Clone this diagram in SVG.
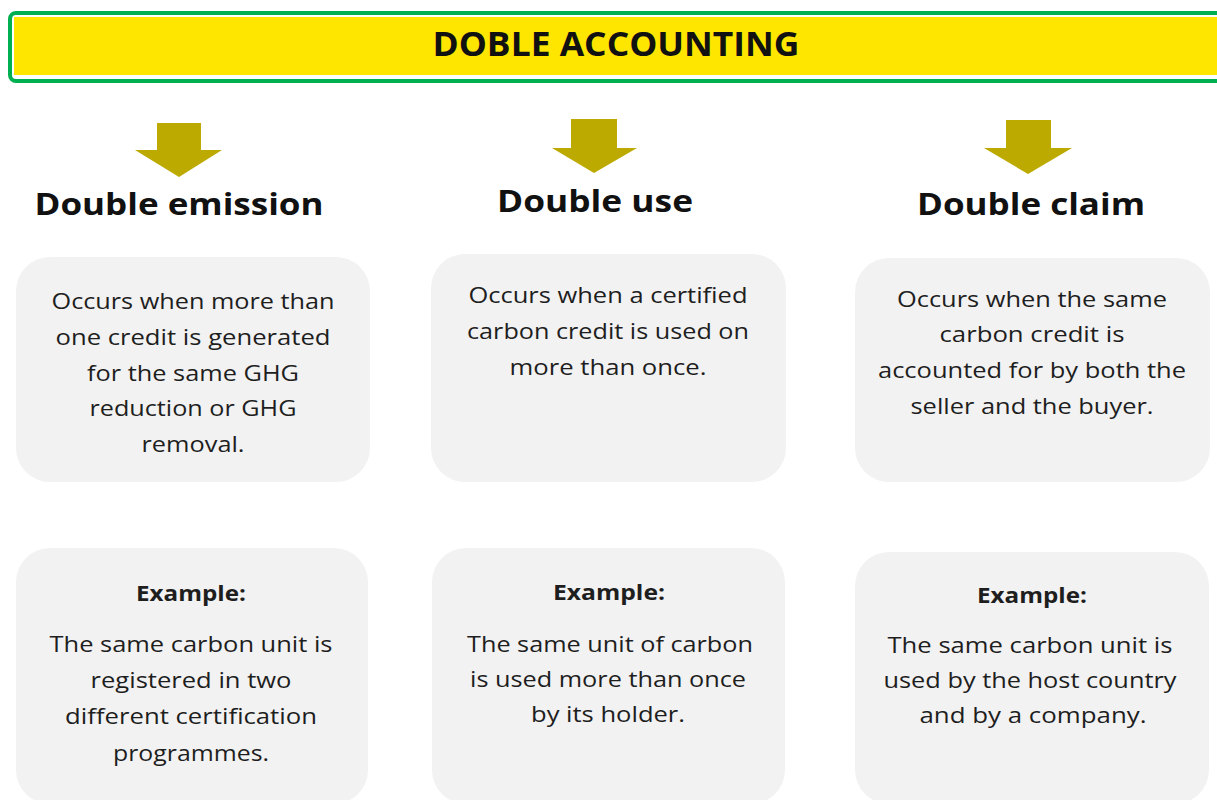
<svg xmlns="http://www.w3.org/2000/svg" width="1217" height="800" viewBox="0 0 1217 800">
<style>
.box{fill:#f2f2f2;}
.arrow{fill:#bdaa00;}
text{font-family:"Open Sans","Liberation Sans",sans-serif;fill:#1e1e1e;text-anchor:middle;}
.title{font-size:34px;font-weight:bold;fill:#111;}
.head{font-size:31px;font-weight:bold;fill:#111;}
.body{font-size:22px;}
.ex{font-size:22px;font-weight:bold;}
</style>
<rect width="1217" height="800" fill="#ffffff"/>
<g id="title">
<rect x="10" y="13" width="1230" height="68" rx="6" fill="#ffffff" stroke="#00b050" stroke-width="4"/>
<rect x="14" y="17" width="1226" height="58" fill="#ffe600"/>
<text class="title" x="616" y="56" textLength="367" lengthAdjust="spacingAndGlyphs">DOBLE ACCOUNTING</text>
</g>
<g id="connectors">
<polygon class="arrow" points="157,123 201,123 201,150 222,150 179,177 135,150 157,150"/>
<polygon class="arrow" points="571,119 617,119 617,148 637,148 594,173 552,148 571,148"/>
<polygon class="arrow" points="1006,120 1051,120 1051,148 1072,148 1028,174 984,148 1006,148"/>
</g>
<g id="heading-emission">
<text class="head" x="179" y="215" textLength="289" lengthAdjust="spacingAndGlyphs">Double emission</text>
</g>
<g id="heading-use">
<text class="head" x="595" y="212" textLength="196" lengthAdjust="spacingAndGlyphs">Double use</text>
</g>
<g id="heading-claim">
<text class="head" x="1031" y="215" textLength="228" lengthAdjust="spacingAndGlyphs">Double claim</text>
</g>
<g id="box-emission">
<rect class="box" x="16" y="257" width="354" height="225" rx="34"/>
<text class="body" x="193" y="309" textLength="283" lengthAdjust="spacingAndGlyphs">Occurs when more than</text>
<text class="body" x="193" y="345" textLength="275" lengthAdjust="spacingAndGlyphs">one credit is generated</text>
<text class="body" x="193" y="381" textLength="212" lengthAdjust="spacingAndGlyphs">for the same GHG</text>
<text class="body" x="193" y="416" textLength="207" lengthAdjust="spacingAndGlyphs">reduction or GHG</text>
<text class="body" x="193" y="452" textLength="103" lengthAdjust="spacingAndGlyphs">removal.</text>
</g>
<g id="box-use">
<rect class="box" x="431" y="254" width="355" height="228" rx="34"/>
<text class="body" x="608" y="303" textLength="279" lengthAdjust="spacingAndGlyphs">Occurs when a certified</text>
<text class="body" x="608" y="339" textLength="282" lengthAdjust="spacingAndGlyphs">carbon credit is used on</text>
<text class="body" x="608" y="375" textLength="197" lengthAdjust="spacingAndGlyphs">more than once.</text>
</g>
<g id="box-claim">
<rect class="box" x="855" y="258" width="355" height="224" rx="34"/>
<text class="body" x="1032" y="307" textLength="270" lengthAdjust="spacingAndGlyphs">Occurs when the same</text>
<text class="body" x="1032" y="342" textLength="185" lengthAdjust="spacingAndGlyphs">carbon credit is</text>
<text class="body" x="1032" y="378" textLength="308" lengthAdjust="spacingAndGlyphs">accounted for by both the</text>
<text class="body" x="1032" y="414" textLength="243" lengthAdjust="spacingAndGlyphs">seller and the buyer.</text>
</g>
<g id="example-emission">
<rect class="box" x="16" y="548" width="352" height="256" rx="34"/>
<text class="ex" x="191" y="601" textLength="110" lengthAdjust="spacingAndGlyphs">Example:</text>
<text class="body" x="191" y="652" textLength="283" lengthAdjust="spacingAndGlyphs">The same carbon unit is</text>
<text class="body" x="191" y="688" textLength="201" lengthAdjust="spacingAndGlyphs">registered in two</text>
<text class="body" x="191" y="724" textLength="252" lengthAdjust="spacingAndGlyphs">different certification</text>
<text class="body" x="191" y="761" textLength="156" lengthAdjust="spacingAndGlyphs">programmes.</text>
</g>
<g id="example-use">
<rect class="box" x="432" y="548" width="353" height="256" rx="34"/>
<text class="ex" x="609" y="600" textLength="112" lengthAdjust="spacingAndGlyphs">Example:</text>
<text class="body" x="610" y="652" textLength="286" lengthAdjust="spacingAndGlyphs">The same unit of carbon</text>
<text class="body" x="608" y="687" textLength="276" lengthAdjust="spacingAndGlyphs">is used more than once</text>
<text class="body" x="608" y="722" textLength="154" lengthAdjust="spacingAndGlyphs">by its holder.</text>
</g>
<g id="example-claim">
<rect class="box" x="855" y="552" width="354" height="252" rx="34"/>
<text class="ex" x="1032" y="603" textLength="110" lengthAdjust="spacingAndGlyphs">Example:</text>
<text class="body" x="1030" y="653" textLength="285" lengthAdjust="spacingAndGlyphs">The same carbon unit is</text>
<text class="body" x="1030" y="688" textLength="293" lengthAdjust="spacingAndGlyphs">used by the host country</text>
<text class="body" x="1033" y="723" textLength="227" lengthAdjust="spacingAndGlyphs">and by a company.</text>
</g>
</svg>
